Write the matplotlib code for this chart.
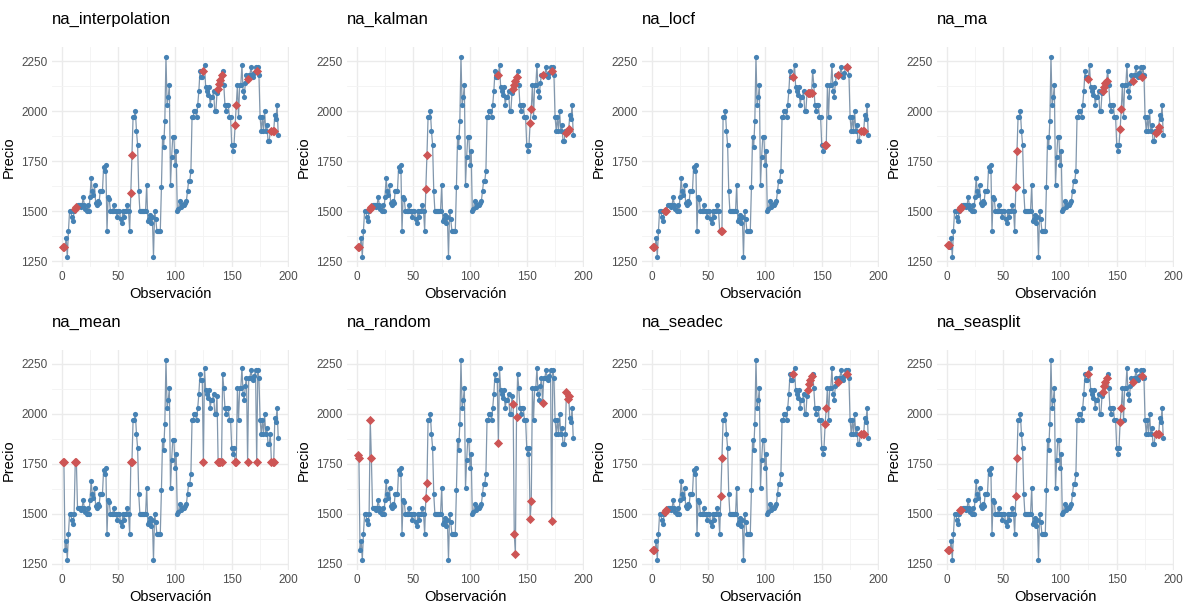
import numpy as np
import matplotlib.pyplot as plt

plt.rcParams['font.family'] = ['Liberation Sans', 'DejaVu Sans']

# precios observados (NaN = faltante), observaciones 1..191
precio = [np.nan, np.nan, 1320, 1365, 1270, 1400, 1500, 1500, 1470, 1450,
          1500, np.nan, np.nan, 1530, 1530, 1530, 1520, 1530, 1570, 1530,
          1510, 1500, 1530, 1500, 1570, 1665, 1600, 1580, 1630, 1540,
          1530, 1550, 1540, 1600, 1600, 1600, 1720, 1700, 1730, 1400,
          1570, 1560, 1500, 1500, 1500, 1530, 1500, 1500, 1470, 1500,
          1500, 1460, 1440, 1500, 1470, 1500, 1500, 1530, 1500, 1400,
          np.nan, np.nan, 1970, 1970, 2000, 1900, 1830, 1600, 1500, 1500,
          1500, 1500, 1500, 1500, 1630, 1450, 1460, 1480, 1440, 1470,
          1270, 1500, 1460, 1400, 1400, 1400, 1400, 1620, 1870, 1820,
          1950, 2270, 2030, 2070, 2130, 1630, 1770, 1870, 1870, 1730,
          1800, 1500, 1510, 1550, 1520, 1530, 1530, 1530, 1540, 1550,
          1600, 1650, 1650, 1700, 1970, 1970, 2000, 2000, 1970, 2030,
          2100, 2200, 2170, 2170, np.nan, 2230, 2120, 2100, 2080, 2120,
          2030, 2070, 2070, 2100, 2000, 2000, 2090, np.nan, np.nan, np.nan,
          np.nan, 2200, 2130, 2030, 2000, 2030, 2030, 1970, 1970, 1830,
          1800, 1830, np.nan, np.nan, 2130, 1970, 2130, 2130, 2230, 2100,
          2070, 2140, 2180, np.nan, 2180, 2180, 2220, 2180, 2170, 2190,
          2220, np.nan, 2220, 2180, 1970, 1900, 1970, 1900, 2000, 1900,
          1930, 1850, 1850, 1900, np.nan, np.nan, np.nan, 1980, 1960, 2030,
          1880]

metodos = ['na_interpolation', 'na_kalman', 'na_locf', 'na_ma',
           'na_mean', 'na_random', 'na_seadec', 'na_seasplit']

# valores imputados en las posiciones faltantes, por metodo
imp_interpolation = [1320, 1320, 1510, 1520, 1590, 1780, 2200, 2112, 2134, 2156,
                     2178, 1930, 2030, 2160, 2200, 1900, 1900, 1900]
imp_kalman = [1320, 1320, 1510, 1520, 1610, 1780, 2180, 2110, 2130, 2150,
              2170, 1940, 2010, 2180, 2200, 1890, 1900, 1910]
imp_locf = [1320, 1320, 1500, 1500, 1400, 1400, 2170, 2090, 2090, 2090,
            2090, 1830, 1830, 2180, 2220, 1900, 1900, 1900]
imp_ma = [1330, 1330, 1510, 1520, 1620, 1800, 2160, 2100, 2120, 2140,
          2150, 1910, 2010, 2150, 2170, 1890, 1900, 1920]
imp_mean = [1760] * 18
imp_random = [1795, 1780, 1970, 1780, 1578, 1653, 1855, 2050, 1400, 1300,
              1985, 1473, 1563, 2053, 1465, 2110, 2073, 2090]
imp_seadec = [1320, 1320, 1510, 1520, 1590, 1780, 2200, 2120, 2150, 2170,
              2190, 1950, 2030, 2160, 2200, 1900, 1900, 1900]
imp_seasplit = [1320, 1320, 1520, 1520, 1590, 1780, 2200, 2110, 2140, 2160,
                2180, 1960, 2030, 2160, 2190, 1900, 1900, 1900]

imputados = [imp_interpolation, imp_kalman, imp_locf, imp_ma,
             imp_mean, imp_random, imp_seadec, imp_seasplit]

precio = np.array(precio, dtype=float)
obs = np.arange(1, len(precio) + 1)
falta = np.isnan(precio)

W, H = 1183, 605
fig = plt.figure(figsize=(W / 100, H / 100), dpi=100)

col_left = [52, 347, 642, 937]
row_top = [47, 350]
pw, ph = 237, 220

for k, (nombre, imp) in enumerate(zip(metodos, imputados)):
    r, c = divmod(k, 4)
    ax = fig.add_axes([col_left[c] / W, (H - row_top[r] - ph) / H, pw / W, ph / H])

    serie = precio.copy()
    serie[falta] = imp

    ax.plot(obs, serie, color='#8197AD', lw=0.9, zorder=2)
    ax.scatter(obs[~falta], precio[~falta], s=14, color='#4682B4',
               linewidths=0, zorder=3)
    ax.scatter(obs[falta], imp, s=22, marker='D', color='#CD5555',
               linewidths=0, zorder=4)

    ax.set_xlim(-8.5, 200.5)
    ax.set_ylim(1220, 2320)
    ax.set_xticks([0, 50, 100, 150, 200])
    ax.set_yticks([1250, 1500, 1750, 2000, 2250])
    ax.set_xticks([25, 75, 125, 175], minor=True)
    ax.set_yticks([1375, 1625, 1875, 2125], minor=True)
    ax.grid(which='major', color='#EBEBEB', lw=1.0, zorder=0)
    ax.grid(which='minor', color='#F3F3F3', lw=0.6, zorder=0)
    ax.set_axisbelow(True)
    ax.tick_params(which='both', length=0, labelsize=8.5, labelcolor='#4D4D4D', pad=3)
    for s in ax.spines.values():
        s.set_visible(False)

    ax.set_xlabel('Observación', fontsize=10.5, labelpad=3)
    ax.set_ylabel('Precio', fontsize=10.5, labelpad=4)
    ax.set_title(nombre, loc='left', fontsize=12, pad=17)

fig.savefig('out.png', dpi=100)
